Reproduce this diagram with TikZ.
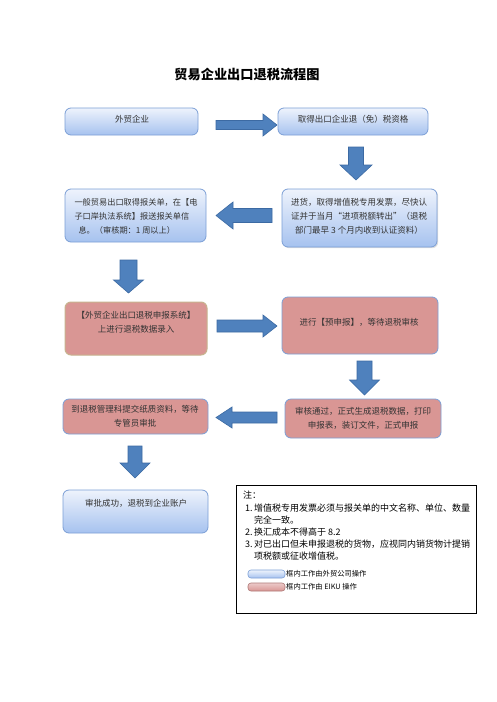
\documentclass[tikz,border=0pt]{standalone}
\usepackage{fontspec}
\setmainfont{Noto Sans CJK SC}
\newfontfamily\cjk{Noto Sans CJK SC}
\usetikzlibrary{shadows}
\definecolor{bluetop}{HTML}{EEF3FC}
\definecolor{bluebot}{HTML}{A6C2EF}
\definecolor{blueedge}{HTML}{7C9FD6}
\definecolor{pinkfill}{HTML}{D99694}
\definecolor{tanedge}{HTML}{C7B38E}
\definecolor{arrfill}{HTML}{4F81BD}
\definecolor{arredge}{HTML}{3C6AA3}
\definecolor{boxtext}{HTML}{333333}
\tikzset{
  bluebox/.style={draw=blueedge, line width=0.8pt, rounded corners=6pt, top color=bluetop, bottom color=bluebot},
  pinkbox/.style={draw=blueedge, line width=0.8pt, rounded corners=6pt, fill=pinkfill},
  pinkboxtan/.style={pinkbox, draw=tanedge, line width=1pt},
  btxt/.style={font=\fontsize{8.5}{14}\selectfont, text=boxtext, align=center, inner sep=0pt},
  ntxt/.style={font=\fontsize{9}{12}\selectfont, anchor=base west, inner sep=0pt},
  ltxt/.style={font=\fontsize{7.3}{9}\selectfont, anchor=west, inner sep=0pt},
  arr/.style={fill=arrfill, draw=arredge, line width=0.6pt, line join=miter},
}
% right/left arrow: x1 (tail), x2 (tip), yc, shaft half, head half, head length
\newcommand\harr[6]{%
  \pgfmathsetmacro\hsgn{(#2>#1)?1:-1}%
  \draw[arr] (#1,#3-#4) -- ({#2-\hsgn*#6},#3-#4) -- ({#2-\hsgn*#6},#3-#5) -- (#2,#3)
    -- ({#2-\hsgn*#6},#3+#5) -- ({#2-\hsgn*#6},#3+#4) -- (#1,#3+#4) -- cycle;}
% down arrow: xc, y1 (tail), y2 (tip), shaft half, head half, head length
\newcommand\varr[6]{%
  \draw[arr] (#1-#4,#2) -- (#1-#4,#3-#6) -- (#1-#5,#3-#6) -- (#1,#3)
    -- (#1+#5,#3-#6) -- (#1+#4,#3-#6) -- (#1+#4,#2) -- cycle;}
\begin{document}
\begin{tikzpicture}[x=1pt,y=-1pt]
\useasboundingbox (0,0) rectangle (496,702);
\fill[white] (0,0) rectangle (496,702);

% title
\node[font=\fontsize{13.2}{15}\selectfont\bfseries, inner sep=0pt] (title) at (247,74) {贸易企业出口退税流程图};

% boxes
\draw[bluebox] (65,108) rectangle (198,135);
\node[btxt] (b1) at (132,119) {外贸企业};
\draw[bluebox] (278,108) rectangle (428,135);
\node[btxt] (b2) at (353,119) {取得出口企业退（免）税资格};

\draw[bluebox, drop shadow={opacity=0.25,shadow xshift=1.2pt,shadow yshift=-1.2pt}] (282,189) rectangle (437,247);
\node[btxt] (b3) at (359,216) {进货，取得增值税专用发票，尽快认\\证并于当月“进项税额转出”（退税\\部门最早 3 个月内收到认证资料）};

\draw[bluebox] (65,189) rectangle (206,242);
\node[btxt, font=\fontsize{8.2}{14}\selectfont, align=left] (b4) at (136,216) {一般贸易出口取得报关单，在【电\\子口岸执法系统】报送报关单信\\\hspace*{4pt}息。（审核期：1 周以上）};

\draw[pinkboxtan] (65,302) rectangle (207,355);
\node[btxt] (b5) at (136,322) {【外贸企业出口退税申报系统】\\上进行退税数据录入};

\draw[pinkbox] (282,297) rectangle (438,354);
\node[btxt] (b6) at (359,322) {进行【预申报】，等待退税审核};

\draw[pinkbox] (285,399) rectangle (441,438);
\node[btxt] (b7) at (363,418) {审核通过，正式生成退税数据，打印\\申报表，装订文件，正式申报};

\draw[pinkbox] (63,399) rectangle (208,434);
\node[btxt] (b8) at (135,416) {到退税管理科提交纸质资料，等待\\专管员审批};

\draw[bluebox] (63,490) rectangle (208,533);
\node[btxt] (b9) at (136,503) {审批成功，退税到企业账户};

% block arrows
\harr{216}{277}{125}{4.5}{11}{14}
\varr{356}{147}{180}{7.5}{16}{15}
\harr{272}{216}{215.5}{7}{13.5}{17}
\varr{128.5}{260}{293}{8.5}{15}{13}
\harr{217}{277}{326}{6}{11}{14}
\varr{364.5}{361}{395}{7.5}{15}{15}
\harr{277}{216}{417.5}{5.5}{10.5}{16}
\varr{135}{446}{478}{7}{15}{15}

% note box
\draw[black, line width=0.9pt] (236,485) rectangle (476,613);
\node[ntxt] (n0) at (243,498) {注：};
\node[ntxt] (n1a) at (245,511) {1.};
\node[ntxt] (n1) at (254,511) {增值税专用发票必须与报关单的中文名称、单位、数量};
\node[ntxt] (n1b) at (254,523) {完全一致。};
\node[ntxt] (n2a) at (245,535) {2.};
\node[ntxt] (n2) at (254,535) {换汇成本不得高于 8.2};
\node[ntxt] (n3a) at (245,547) {3.};
\node[ntxt] (n3) at (254,547) {对已出口但未申报退税的货物，应视同内销货物计提销};
\node[ntxt] (n3b) at (254,559) {项税额或征收增值税。};

% legend
\draw[draw=blueedge, line width=0.6pt, rounded corners=3pt, top color=bluetop, bottom color=bluebot] (248,570) rectangle (285,578);
\node[ltxt] (l1) at (286,574) {框内工作由外贸公司操作};
\draw[draw=pinkfill!80!black, line width=0.6pt, rounded corners=3pt, top color=pinkfill!50!white, bottom color=pinkfill] (248,583) rectangle (285,591);
\node[ltxt] (l2) at (286,587) {框内工作由 EIKU 操作};
\end{tikzpicture}
\end{document}
